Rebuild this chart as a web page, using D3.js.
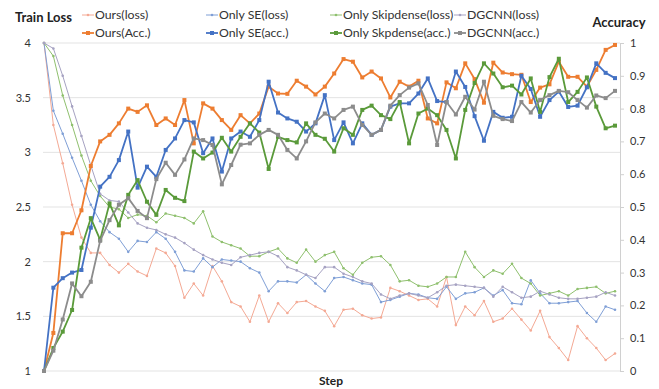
<!DOCTYPE html>
<html><head><meta charset="utf-8">
<script src="https://cdn.jsdelivr.net/npm/d3@7/dist/d3.min.js"></script>
<style>
html,body{margin:0;padding:0;background:#fff;}
svg{display:block;font-family:Lato,"Open Sans",sans-serif;}
</style></head>
<body><svg id="c" width="659" height="389"></svg>
<script>
// ---- data ----
const steps = d3.range(62);
const oursLoss = [4.0,3.25,2.9,2.52,2.22,2.08,2.08,1.97,1.9,1.98,1.91,1.87,2.12,2.08,1.96,1.67,1.8,1.69,1.96,1.82,1.63,1.59,1.45,1.69,1.45,1.62,1.53,1.63,1.64,1.59,1.55,1.41,1.56,1.57,1.51,1.48,1.49,1.76,1.73,1.69,1.65,1.66,1.59,1.86,1.42,1.59,1.51,1.64,1.45,1.48,1.57,1.47,1.37,1.55,1.31,1.21,1.10,1.41,1.30,1.21,1.10,1.16];
const seLoss = [4.0,3.38,3.17,2.95,2.74,2.52,2.37,2.27,2.21,2.09,2.19,2.18,2.27,2.21,2.09,1.92,1.91,2.03,1.95,2.02,2.01,2.0,1.94,1.9,1.73,1.82,1.82,1.81,1.88,1.8,1.73,1.85,1.86,1.83,1.8,1.79,1.63,1.65,1.68,1.71,1.7,1.67,1.66,1.77,1.66,1.71,1.72,1.76,1.69,1.74,1.62,1.61,1.83,1.71,1.62,1.62,1.63,1.64,1.53,1.45,1.59,1.56];
const skipLoss = [4.0,3.88,3.52,3.25,2.97,2.74,2.6,2.5,2.48,2.4,2.43,2.42,2.36,2.44,2.42,2.40,2.35,2.46,2.23,2.18,2.15,2.12,2.05,2.05,2.09,2.12,2.03,1.99,2.11,2.0,2.06,2.09,1.94,1.88,1.99,2.04,2.05,1.97,1.82,1.83,1.78,1.77,1.8,1.86,1.86,2.09,1.95,1.86,1.92,1.89,1.98,1.85,1.8,1.69,1.71,1.73,1.69,1.75,1.76,1.77,1.71,1.73];
const dgLoss = [4.0,3.95,3.70,3.42,3.15,2.88,2.62,2.56,2.55,2.45,2.35,2.31,2.29,2.25,2.22,2.17,2.11,2.06,2.02,1.99,1.97,2.04,2.06,2.08,2.09,2.05,1.95,1.92,1.88,1.85,1.95,1.95,1.89,1.86,1.82,1.80,1.70,1.66,1.69,1.71,1.69,1.67,1.72,1.78,1.79,1.78,1.77,1.76,1.68,1.77,1.72,1.67,1.68,1.73,1.70,1.67,1.66,1.66,1.67,1.68,1.72,1.69];
const oursAcc = [0,0.116,0.42,0.42,0.49,0.625,0.70,0.72,0.755,0.80,0.79,0.81,0.75,0.77,0.75,0.826,0.694,0.816,0.80,0.765,0.735,0.78,0.755,0.785,0.867,0.846,0.845,0.885,0.867,0.843,0.867,0.907,0.951,0.943,0.895,0.913,0.892,0.834,0.882,0.867,0.885,0.77,0.755,0.88,0.862,0.938,0.89,0.818,0.94,0.91,0.905,0.903,0.82,0.864,0.874,0.943,0.897,0.897,0.867,0.918,0.979,0.994];
const seAcc = [0,0.254,0.283,0.30,0.308,0.437,0.562,0.592,0.643,0.73,0.559,0.623,0.592,0.674,0.709,0.765,0.758,0.664,0.709,0.608,0.709,0.73,0.714,0.765,0.882,0.788,0.77,0.76,0.73,0.755,0.841,0.704,0.758,0.694,0.755,0.72,0.735,0.806,0.816,0.816,0.846,0.892,0.823,0.82,0.913,0.866,0.777,0.702,0.79,0.772,0.775,0.90,0.86,0.775,0.826,0.852,0.805,0.809,0.865,0.938,0.909,0.893];
const skipAcc = [0,0.07,0.12,0.186,0.376,0.466,0.40,0.511,0.444,0.537,0.582,0.516,0.476,0.552,0.528,0.518,0.669,0.648,0.666,0.711,0.669,0.714,0.755,0.727,0.616,0.714,0.704,0.697,0.755,0.72,0.708,0.669,0.74,0.72,0.796,0.809,0.78,0.768,0.82,0.694,0.785,0.80,0.78,0.735,0.648,0.796,0.878,0.938,0.907,0.865,0.87,0.843,0.892,0.79,0.896,0.952,0.82,0.851,0.895,0.806,0.74,0.748];
const dgAcc = [0,0.062,0.157,0.267,0.228,0.272,0.397,0.46,0.507,0.527,0.488,0.466,0.585,0.635,0.598,0.645,0.709,0.704,0.689,0.569,0.628,0.69,0.694,0.72,0.735,0.72,0.674,0.648,0.70,0.758,0.785,0.77,0.796,0.806,0.75,0.72,0.735,0.809,0.841,0.864,0.877,0.811,0.689,0.82,0.782,0.836,0.797,0.882,0.778,0.768,0.762,0.82,0.788,0.826,0.841,0.854,0.85,0.826,0.803,0.84,0.832,0.854];
const lossTicks = [1,1.5,2,2.5,3,3.5,4];
const accTicks = [0,0.1,0.2,0.3,0.4,0.5,0.6,0.7,0.8,0.9,1];
const seriesNames = ["Ours(loss)","Only SE(loss)","Only Skipdense(loss)","DGCNN(loss)","Ours(Acc.)","Only SE(acc.)","Only Skpdense(acc.)","DGCNN(acc.)"];

// ---- chart ----
const svg = d3.select("#c");
const x = d3.scaleLinear().domain([0,61]).range([44,615]);
const yL = d3.scaleLinear().domain([1,4]).range([371,43]);
const yR = d3.scaleLinear().domain([0,1]).range([371,43]);

// gridlines
svg.append("g").selectAll("line").data(lossTicks).join("line")
  .attr("x1",43).attr("x2",620).attr("y1",d=>yL(d)).attr("y2",d=>yL(d))
  .attr("stroke","#e3e3e3").attr("stroke-width",1);

// left axis
const ax = svg.append("g").attr("transform","translate(31,0)")
  .call(d3.axisLeft(yL).tickValues(lossTicks).tickSize(0).tickPadding(0).tickFormat(d3.format("")));
ax.select(".domain").remove();
ax.selectAll("text").attr("font-size",11).attr("fill","#333").attr("font-family","Lato, sans-serif");

// right axis
const ar = svg.append("g").attr("transform","translate(620,0)")
  .call(d3.axisRight(yR).tickValues(accTicks).tickSize(4).tickPadding(6).tickFormat(d3.format("")));
ar.select(".domain").attr("stroke","#d0d0d0");
ar.selectAll(".tick line").attr("stroke","#d0d0d0");
ar.selectAll("text").attr("font-size",11).attr("fill","#333").attr("font-family","Lato, sans-serif");

const defs = [
  {name:seriesNames[0],vals:oursLoss,y:yL,color:"#f4a994",w:1,mk:"dot"},
  {name:seriesNames[1],vals:seLoss,y:yL,color:"#7f9fd6",w:1,mk:"dot"},
  {name:seriesNames[2],vals:skipLoss,y:yL,color:"#8fc06e",w:1,mk:"dot"},
  {name:seriesNames[3],vals:dgLoss,y:yL,color:"#a6a2c2",w:1,mk:"dot"},
  {name:seriesNames[4],vals:oursAcc,y:yR,color:"#ed7d31",w:1.8,mk:"sq"},
  {name:seriesNames[5],vals:seAcc,y:yR,color:"#4472c4",w:1.8,mk:"sq"},
  {name:seriesNames[6],vals:skipAcc,y:yR,color:"#5a9a3a",w:1.8,mk:"sq"},
  {name:seriesNames[7],vals:dgAcc,y:yR,color:"#8c8c8c",w:1.8,mk:"sq"}
];

defs.forEach(s=>{
  const line = d3.line().x((d,i)=>x(steps[i])).y(d=>s.y(d));
  const g = svg.append("g");
  g.append("path").datum(s.vals).attr("d",line).attr("fill","none")
    .attr("stroke",s.color).attr("stroke-width",s.w).attr("stroke-linejoin","round");
  if(s.mk==="sq"){
    g.selectAll("rect").data(s.vals).join("rect")
      .attr("x",(d,i)=>x(steps[i])-2).attr("y",d=>s.y(d)-2).attr("width",4).attr("height",4)
      .attr("fill",s.color);
  } else {
    g.selectAll("circle").data(s.vals).join("circle")
      .attr("cx",(d,i)=>x(steps[i])).attr("cy",d=>s.y(d)).attr("r",1.3)
      .attr("fill",s.color);
  }
});

// legend
const colX = [82,206,330,454];
const rowY = [15,33];
defs.forEach((s,k)=>{
  const cx = colX[k%4], cy = rowY[Math.floor(k/4)];
  const g = svg.append("g");
  g.append("line").attr("x1",cx).attr("x2",cx+12).attr("y1",cy).attr("y2",cy)
    .attr("stroke",s.color).attr("stroke-width",s.w);
  if(s.mk==="sq") g.append("rect").attr("x",cx+4).attr("y",cy-2).attr("width",4).attr("height",4).attr("fill",s.color);
  else g.append("circle").attr("cx",cx+6).attr("cy",cy).attr("r",1.3).attr("fill",s.color);
  g.append("text").attr("x",cx+13).attr("y",cy).attr("dy","0.35em")
    .attr("font-size",12.3).attr("fill","#333").text(s.name);
});

// axis titles
svg.append("text").attr("x",15).attr("y",17).attr("dy","0.35em").attr("font-size",13)
  .attr("font-weight","bold").attr("fill","#222").text("Train Loss");
svg.append("text").attr("x",619).attr("y",22).attr("dy","0.35em").attr("text-anchor","middle").attr("font-size",13)
  .attr("font-weight","bold").attr("fill","#222").text("Accuracy");
svg.append("text").attr("x",331).attr("y",381).attr("dy","0.35em").attr("text-anchor","middle").attr("font-size",12)
  .attr("font-weight","bold").attr("fill","#222").text("Step");
</script></body></html>
